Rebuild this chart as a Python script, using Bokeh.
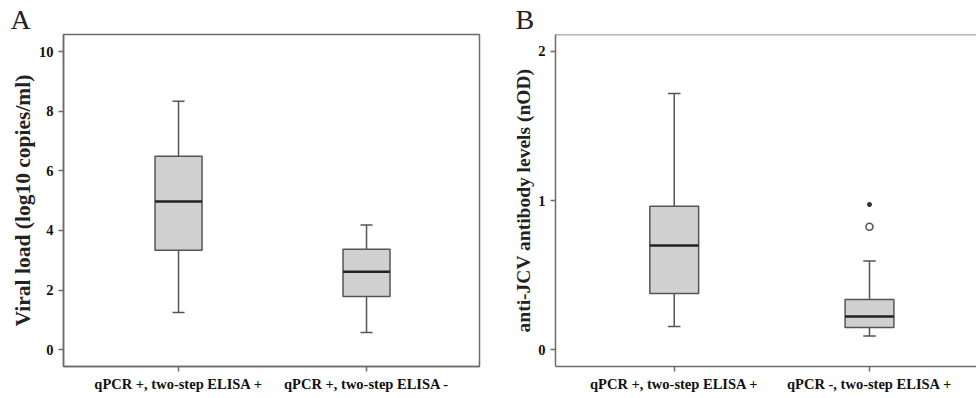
from bokeh.plotting import figure
from bokeh.layouts import row
from bokeh.models import FixedTicker, ColumnDataSource, Range1d, Span
from bokeh.embed import file_html
from bokeh.resources import INLINE

# ---- data ----
cats_a = ["qPCR +, two-step ELISA +", "qPCR +, two-step ELISA -"]
lower_a = [1.25, 0.58]
q1_a = [3.34, 1.79]
median_a = [4.97, 2.62]
q3_a = [6.49, 3.37]
upper_a = [8.33, 4.18]
yticks_a = [0, 2, 4, 6, 8, 10]

cats_b = ["qPCR +, two-step ELISA +", "qPCR -, two-step ELISA +"]
lower_b = [0.155, 0.092]
q1_b = [0.377, 0.149]
median_b = [0.698, 0.222]
q3_b = [0.961, 0.337]
upper_b = [1.717, 0.594]
yticks_b = [0, 1, 2]
outlier_b_x = [2]
outlier_b_y = [0.824]
extreme_b_x = [2]
extreme_b_y = [0.973]

SERIF = "Liberation Serif"
AX = "#6b6b6b"
BOXW = 0.25
CAPW = 0.032
H = 398


def make_panel(cats, lo, q1, med, q3, up, yticks, yr, xr, ylabel, ylabel_size,
               width, mb_left, mb_right, mb_top, mb_bottom, letter, loff):
    p = figure(width=width, height=H, output_backend="svg", toolbar_location=None,
               x_range=Range1d(*xr), y_range=Range1d(*yr),
               min_border_left=mb_left, min_border_right=mb_right,
               min_border_top=mb_top, min_border_bottom=mb_bottom)
    xs = list(range(1, len(cats) + 1))
    src = ColumnDataSource(dict(x=xs, lo=lo, q1=q1, med=med, q3=q3, up=up,
                                xl=[x - BOXW / 2 for x in xs], xr=[x + BOXW / 2 for x in xs],
                                cl=[x - CAPW for x in xs], cr=[x + CAPW for x in xs]))
    # whiskers
    p.segment(x0="x", y0="q3", x1="x", y1="up", source=src, line_color="#555555", line_width=1.5)
    p.segment(x0="x", y0="lo", x1="x", y1="q1", source=src, line_color="#555555", line_width=1.5)
    p.segment(x0="cl", y0="up", x1="cr", y1="up", source=src, line_color="#555555", line_width=1.5)
    p.segment(x0="cl", y0="lo", x1="cr", y1="lo", source=src, line_color="#555555", line_width=1.5)
    # boxes
    p.vbar(x="x", width=BOXW, bottom="q1", top="q3", source=src,
           fill_color="#d0d0d0", line_color="#555555", line_width=1.5)
    # medians
    p.segment(x0="xl", y0="med", x1="xr", y1="med", source=src, line_color="#222222", line_width=2.5)

    p.grid.visible = False
    p.background_fill_color = "white"
    p.border_fill_color = "white"
    p.outline_line_color = AX
    p.outline_line_width = 1.5

    p.xaxis.ticker = FixedTicker(ticks=xs)
    p.xaxis.major_label_overrides = {x: c for x, c in zip(xs, cats)}
    p.yaxis.ticker = FixedTicker(ticks=yticks)
    for ax in (p.xaxis[0], p.yaxis[0]):
        ax.axis_line_color = AX
        ax.axis_line_width = 1.5
        ax.major_tick_line_color = AX
        ax.major_tick_line_width = 1.5
        ax.major_tick_in = 0
        ax.major_tick_out = 5
        ax.minor_tick_line_color = None
        ax.major_label_text_font = SERIF
        ax.major_label_text_font_style = "bold"
        ax.major_label_text_font_size = "14.5px"
        ax.major_label_text_color = "#111111"
        ax.major_label_standoff = 4
    p.yaxis.major_label_standoff = 5
    p.yaxis.axis_label = ylabel
    p.yaxis.axis_label_text_font = SERIF
    p.yaxis.axis_label_text_font_style = "bold"
    p.yaxis.axis_label_text_font_size = ylabel_size
    p.yaxis.axis_label_text_color = "#222222"
    p.yaxis.axis_label_standoff = 1

    p.title.text = letter
    p.title.text_font = SERIF
    p.title.text_font_style = "normal"
    p.title.text_font_size = "28px"
    p.title.text_color = "#222222"
    p.title.align = "left"
    p.title.offset = loff
    p.title.standoff = 0
    return p


pa = make_panel(cats_a, lower_a, q1_a, median_a, q3_a, upper_a, yticks_a,
                (-0.56, 10.57), (0.388, 2.601), "Viral load (log10 copies/ml)", "21.5px",
                490, 63, 11, 33, 32, "A", -53)

yr_b = (-0.113, 2.113)
pb = make_panel(cats_b, lower_b, q1_b, median_b, q3_b, upper_b, yticks_b,
                yr_b, (0.392, 2.548), "anti-JCV antibody levels (nOD)", "19.5px",
                486, 65, 0, 34, 29, "B", -40)
# panel B is cut at the right edge: no right border, only a top line
pb.outline_line_color = None
pb.add_layout(Span(location=yr_b[1], dimension="width", line_color=AX, line_width=1.5))
pb.scatter(x=outlier_b_x, y=outlier_b_y, marker="circle", size=7, fill_color="white",
           line_color="#555555", line_width=1.5)
pb.scatter(x=extreme_b_x, y=extreme_b_y, marker="asterisk", size=5,
           line_color="#333333", line_width=1.5)

layout = row(pa, pb)
open("out.html", "w").write(file_html(layout, INLINE))
